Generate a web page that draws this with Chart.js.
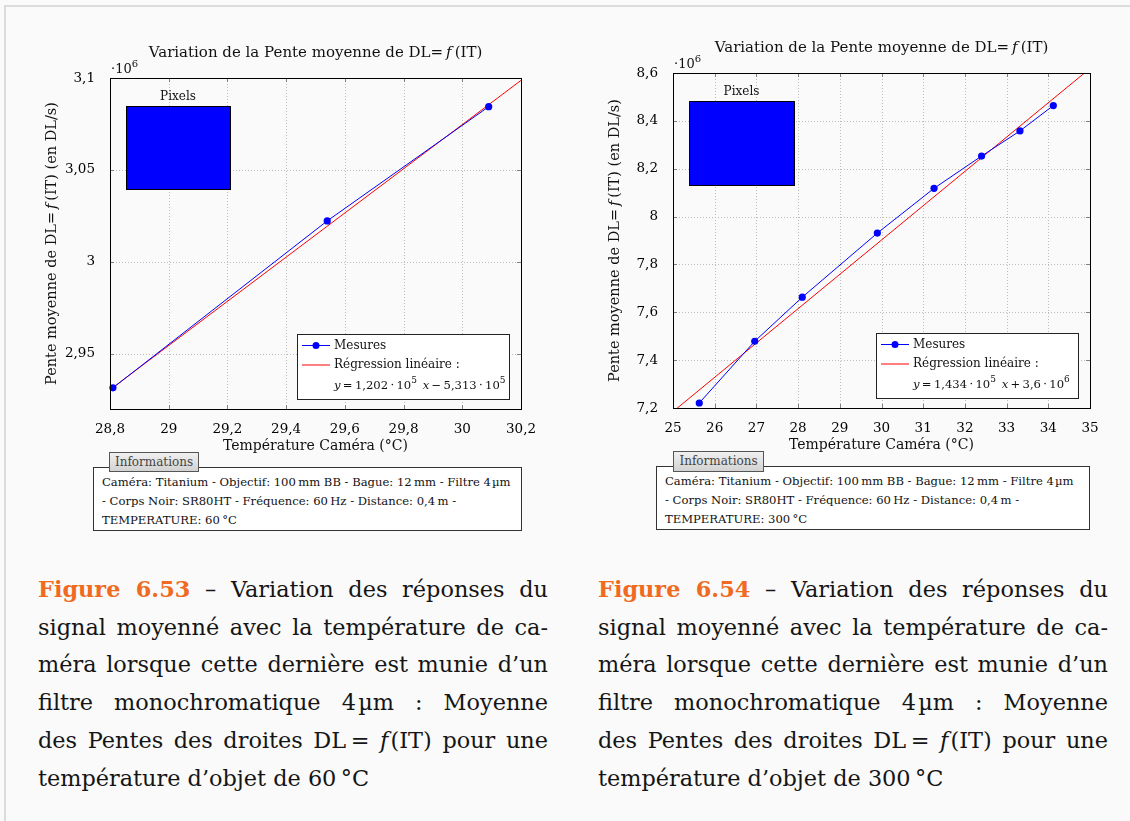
<!doctype html>
<html lang="fr">
<head>
<meta charset="utf-8">
<title>Variation de la Pente moyenne de DL = f(IT)</title>
<script src="https://cdn.jsdelivr.net/npm/chart.js@4.4.0/dist/chart.umd.min.js"></script>
<style>
  body { margin: 0; width: 1130px; height: 821px; background: #fafafa; position: relative; overflow: hidden;
         font-family: "DejaVu Serif", serif; color: #111; }
  .page { position: absolute; left: 4px; top: 5px; width: 1140px; height: 830px;
          border-top: 2px solid #dcdcdc; border-left: 2px solid #dcdcdc; }
  canvas { position: absolute; }
  .info { position: absolute; box-sizing: border-box; border: 1px solid #333; background: #fff;
          font-size: 11.6px; line-height: 19px; padding: 5px 0 0 8px; white-space: nowrap; }
  .tab { position: absolute; box-sizing: border-box; border: 1px solid #555; color: #444;
         background: linear-gradient(#f0f0f0, #d2d2d2); font-size: 12px; line-height: 18px; text-align: center; }
  .caption { position: absolute; width: 510px; font-size: 22.4px; line-height: 37.7px; color: #151515; }
  .caption div { text-align: justify; text-align-last: justify; }
  .caption div.last { text-align-last: left; }
  .caption b { color: #f06a22; }
</style>
</head>
<body>
<div class="page"></div>

<canvas id="fig53" width="530" height="450" style="left:20px; top:20px"></canvas>
<canvas id="fig54" width="530" height="450" style="left:585px; top:20px"></canvas>

<div class="info" style="left:93px; top:467px; width:429px; height:64px">
  Caméra: Titanium - Objectif: 100&#8201;mm BB - Bague: 12&#8201;mm - Filtre 4&#8202;µm<br>
  - Corps Noir: SR80HT - Fréquence: 60&#8201;Hz - Distance: 0,4&#8201;m -<br>
  TEMPERATURE: 60&#8201;°C
</div>
<div class="tab" style="left:109px; top:452px; width:90px; height:20px">Informations</div>

<div class="info" style="left:656px; top:466px; width:434px; height:64px">
  Caméra: Titanium - Objectif: 100&#8201;mm BB - Bague: 12&#8201;mm - Filtre 4&#8202;µm<br>
  - Corps Noir: SR80HT - Fréquence: 60&#8201;Hz - Distance: 0,4&#8201;m -<br>
  TEMPERATURE: 300&#8201;°C
</div>
<div class="tab" style="left:673px; top:451px; width:91px; height:21px">Informations</div>

<div class="caption" style="left:38px; top:571px">
  <div><b>Figure 6.53</b> – Variation des réponses du</div>
  <div>signal moyenné avec la température de ca-</div>
  <div>méra lorsque cette dernière est munie d’un</div>
  <div>filtre monochromatique 4&#8202;µm : Moyenne</div>
  <div>des Pentes des droites DL&#8201;= <i>f</i>&#8202;(IT) pour une</div>
  <div class="last">température d’objet de 60&#8201;°C</div>
</div>
<div class="caption" style="left:598px; top:571px">
  <div><b>Figure 6.54</b> – Variation des réponses du</div>
  <div>signal moyenné avec la température de ca-</div>
  <div>méra lorsque cette dernière est munie d’un</div>
  <div>filtre monochromatique 4&#8202;µm : Moyenne</div>
  <div>des Pentes des droites DL&#8201;= <i>f</i>&#8202;(IT) pour une</div>
  <div class="last">température d’objet de 300&#8201;°C</div>
</div>

<script>
const SERIF = '"DejaVu Serif", serif';

// Figure 6.53 - objet a 60 °C (pente en 10^6 DL/s)
const temp60 = [28.81, 29.54, 30.09];
const pente60 = [2.9315, 3.0223, 3.0844];
const regTemp60 = [28.8, 30.2];
const regPente60 = [2.9305, 3.0987];
const xTicks60 = [28.8, 29, 29.2, 29.4, 29.6, 29.8, 30, 30.2];
const yTicks60 = [2.95, 3, 3.05, 3.1];

// Figure 6.54 - objet a 300 °C
const temp300 = [25.63, 26.96, 28.10, 29.90, 31.26, 32.40, 33.32, 34.12];
const pente300 = [7.221, 7.479, 7.663, 7.931, 8.118, 8.253, 8.358, 8.464];
const regTemp300 = [25, 35];
const regPente300 = [7.185, 8.619];
const xTicks300 = [25, 26, 27, 28, 29, 30, 31, 32, 33, 34, 35];
const yTicks300 = [7.2, 7.4, 7.6, 7.8, 8, 8.2, 8.4, 8.6];

// equations de la legende : [texte, style] ('i' italique, 's' exposant)
const eq60 = [['y', 'i'], ['\u2009=\u20091,202\u2009·\u200910', ''], ['5', 's'], ['\u2002', ''], ['x', 'i'], ['\u2009−\u20095,313\u2009·\u200910', ''], ['5', 's']];
const eq300 = [['y', 'i'], ['\u2009=\u20091,434\u2009·\u200910', ''], ['5', 's'], ['\u2002', ''], ['x', 'i'], ['\u2009+\u20093,6\u2009·\u200910', ''], ['6', 's']];

const titleParts = [['Variation de la Pente moyenne de DL=\u2009', ''], ['f', 'i'], ['\u2009(IT)', '']];
const yTitleParts = [['Pente moyenne de DL=\u2009', ''], ['f', 'i'], ['\u2009(IT) (en DL/s)', '']];

// geometrie propre a chaque figure (px)
const geo = {
  fig53: { pad: {left: 30, top: 58, right: 29, bottom: 21}, pix: [16, 28, 104, 83], lg: [212, 65, 12, 10], eq: eq60 },
  fig54: { pad: {left: 28, top: 53, right: 25, bottom: 22}, pix: [16, 28, 105, 84], lg: [202, 65, 12, 10], eq: eq300 }
};

function fontOf(style, size) {
  if (style === 'i') return 'italic ' + size + 'px ' + SERIF;
  if (style === 's') return Math.round(size * 0.75) + 'px ' + SERIF;
  return size + 'px ' + SERIF;
}

function richWidth(ctx, parts, size) {
  let w = 0;
  parts.forEach(p => { ctx.font = fontOf(p[1], size); w += ctx.measureText(p[0]).width; });
  return w;
}

function drawRich(ctx, parts, x, y, size, align) {
  if (align === 'center') x -= richWidth(ctx, parts, size) / 2;
  ctx.textAlign = 'left';
  ctx.textBaseline = 'middle';
  parts.forEach(p => {
    ctx.font = fontOf(p[1], size);
    ctx.fillText(p[0], x, p[1] === 's' ? y - size * 0.42 : y);
    x += ctx.measureText(p[0]).width;
  });
}

function seg(ctx, x1, y1, x2, y2) {
  ctx.beginPath(); ctx.moveTo(x1, y1); ctx.lineTo(x2, y2); ctx.stroke();
}

const decor = {
  id: 'decor',
  beforeDatasetsDraw(chart) {
    const {ctx, chartArea: a, scales: {x, y}} = chart;
    ctx.save();
    ctx.strokeStyle = '#bdbdbd';
    ctx.lineWidth = 1;
    ctx.setLineDash([1, 2]);
    x.ticks.forEach(t => {
      const px = Math.round(x.getPixelForValue(t.value)) + 0.5;
      seg(ctx, px, a.top, px, a.bottom);
    });
    y.ticks.forEach(t => {
      const py = Math.round(y.getPixelForValue(t.value)) + 0.5;
      seg(ctx, a.left, py, a.right, py);
    });
    ctx.restore();
  },
  afterDatasetsDraw(chart) {
    const {ctx, chartArea: a, scales: {x, y}} = chart;
    const g = geo[chart.canvas.id];
    const ds = chart.data.datasets;
    ctx.save();

    // petites graduations interieures
    ctx.strokeStyle = '#808080';
    ctx.lineWidth = 1;
    x.ticks.forEach(t => {
      const px = Math.round(x.getPixelForValue(t.value)) + 0.5;
      seg(ctx, px, a.bottom, px, a.bottom - 4);
      seg(ctx, px, a.top, px, a.top + 4);
    });
    y.ticks.forEach(t => {
      const py = Math.round(y.getPixelForValue(t.value)) + 0.5;
      seg(ctx, a.left, py, a.left + 4, py);
      seg(ctx, a.right, py, a.right - 4, py);
    });

    // cadre
    ctx.strokeStyle = '#000';
    ctx.strokeRect(Math.round(a.left) + 0.5, Math.round(a.top) + 0.5,
                   Math.round(a.right - a.left), Math.round(a.bottom - a.top));

    // boite "Pixels"
    const [px0, py0, pw, ph] = g.pix;
    ctx.fillStyle = '#0000ff';
    ctx.fillRect(a.left + px0, a.top + py0, pw, ph);
    ctx.strokeStyle = '#000';
    ctx.strokeRect(a.left + px0 + 0.5, a.top + py0 + 0.5, pw, ph);
    ctx.fillStyle = '#111';
    ctx.font = '12px ' + SERIF;
    ctx.textAlign = 'center';
    ctx.textBaseline = 'middle';
    ctx.fillText('Pixels', a.left + px0 + pw / 2, a.top + py0 - 9);

    // legende
    const [lw, lh, lr, lb] = g.lg;
    const L = Math.round(a.right - lr - lw), T = Math.round(a.bottom - lb - lh);
    ctx.fillStyle = '#fff';
    ctx.fillRect(L, T, lw, lh);
    ctx.strokeStyle = '#222';
    ctx.strokeRect(L + 0.5, T + 0.5, lw, lh);
    const r1 = T + 11.5, r2 = T + 31, r3 = T + 52;
    ctx.strokeStyle = ds[0].borderColor;
    seg(ctx, L + 5, r1, L + 33, r1);
    ctx.fillStyle = ds[0].backgroundColor;
    ctx.beginPath(); ctx.arc(L + 19, r1, 3.5, 0, Math.PI * 2); ctx.fill();
    ctx.strokeStyle = ds[1].borderColor;
    seg(ctx, L + 5, r2, L + 33, r2);
    ctx.fillStyle = '#111';
    ctx.font = '12px ' + SERIF;
    ctx.textAlign = 'left';
    ctx.fillText(ds[0].label, L + 37, r1);
    ctx.fillText(ds[1].label + ' :', L + 37, r2);
    drawRich(ctx, g.eq, L + 37, r3, 11.6, 'left');
    ctx.restore();
  },
  afterDraw(chart) {
    const {ctx, chartArea: a} = chart;
    const cx = (a.left + a.right) / 2, cy = (a.top + a.bottom) / 2;
    ctx.save();
    ctx.fillStyle = '#111';
    drawRich(ctx, titleParts, cx, a.top - 25, 15, 'center');
    ctx.font = '14px ' + SERIF;
    ctx.textAlign = 'center';
    ctx.textBaseline = 'middle';
    ctx.fillText('Température Caméra (°C)', cx, a.bottom + 37);
    // facteur d'echelle
    drawRich(ctx, [['·10', ''], ['6', 's']], a.left + 1, a.top - 8, 13, 'left');
    // titre vertical
    ctx.translate(a.left - 58, cy);
    ctx.rotate(-Math.PI / 2);
    drawRich(ctx, yTitleParts, 0, 0, 14.5, 'center');
    ctx.restore();
  }
};

const fmt = v => String(v).replace('.', ',');

function makeChart(id, temps, pentes, regT, regP, xt, yt) {
  const g = geo[id];
  const tickFont = {family: SERIF, size: 13.5};
  return new Chart(document.getElementById(id), {
    type: 'scatter',
    data: {
      datasets: [
        {
          label: 'Mesures',
          data: temps.map((t, i) => ({x: t, y: pentes[i]})),
          showLine: true,
          borderColor: '#0000ff',
          backgroundColor: '#0000ff',
          borderWidth: 1,
          pointRadius: 3.6,
          pointBorderWidth: 0,
          clip: 8
        },
        {
          label: 'Régression linéaire',
          data: regT.map((t, i) => ({x: t, y: regP[i]})),
          showLine: true,
          borderColor: '#ff0000',
          backgroundColor: '#ff0000',
          borderWidth: 1,
          pointRadius: 0
        }
      ]
    },
    plugins: [decor],
    options: {
      responsive: false,
      animation: false,
      devicePixelRatio: 1,
      layout: {padding: g.pad},
      plugins: {legend: {display: false}, tooltip: {enabled: false}},
      scales: {
        x: {
          type: 'linear', min: xt[0], max: xt[xt.length - 1],
          afterBuildTicks: s => { s.ticks = xt.map(v => ({value: v})); },
          afterFit: s => { s.height = 40; },
          grid: {display: false},
          border: {display: false},
          ticks: {font: tickFont, color: '#000', padding: 4, maxRotation: 0, autoSkip: false, callback: fmt}
        },
        y: {
          type: 'linear', min: yt[0] === 2.95 ? 2.92 : yt[0], max: yt[yt.length - 1],
          afterBuildTicks: s => { s.ticks = yt.map(v => ({value: v})); },
          afterFit: s => { s.width = 60; },
          grid: {display: false},
          border: {display: false},
          ticks: {font: tickFont, color: '#000', padding: 7, autoSkip: false, callback: fmt}
        }
      }
    }
  });
}

makeChart('fig53', temp60, pente60, regTemp60, regPente60, xTicks60, yTicks60);
makeChart('fig54', temp300, pente300, regTemp300, regPente300, xTicks300, yTicks300);
</script>
</body>
</html>
